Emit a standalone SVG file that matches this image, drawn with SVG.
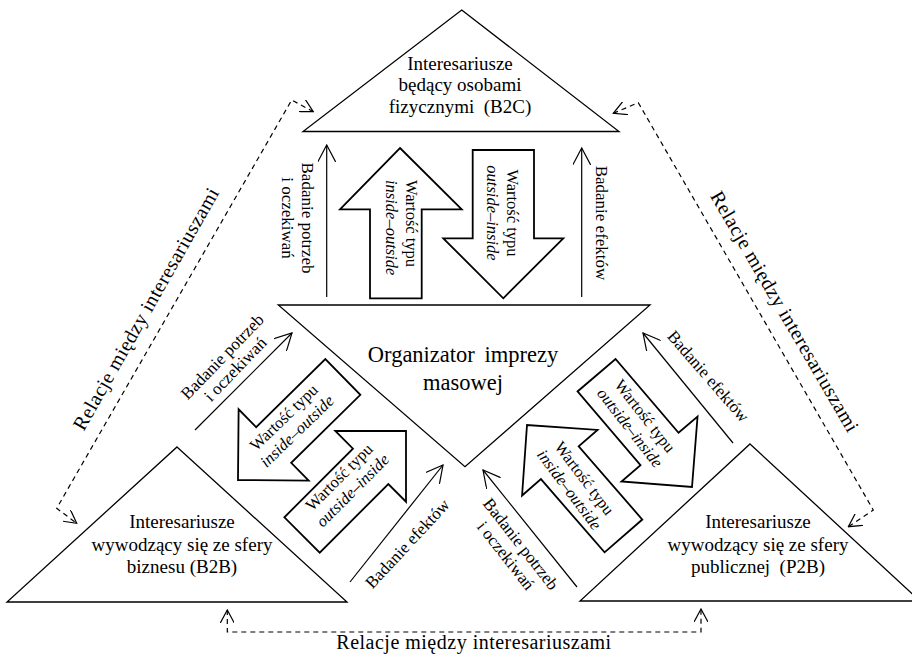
<svg xmlns="http://www.w3.org/2000/svg" width="912" height="655" viewBox="0 0 912 655">
<style>
text{font-family:"Liberation Serif","Times New Roman",serif;fill:#000}
.tri{fill:#fff;stroke:#000;stroke-width:1.3}
.n{font-size:19px;text-anchor:middle}
.c{font-size:22.5px;text-anchor:middle;word-spacing:4px}
.s{font-size:17px;text-anchor:middle}
.b{font-size:16.5px;text-anchor:middle}
.it{font-style:italic}
.rel{font-size:20px;text-anchor:middle;letter-spacing:0.5px}
.ln{fill:none;stroke:#000;stroke-width:1.2}
.ds{fill:none;stroke:#000;stroke-width:1.2;stroke-dasharray:5 4}
.blk{fill:#fff;stroke:#000;stroke-width:1.8}
</style>
<defs>
<marker id="ah" viewBox="0 0 18 18" refX="17" refY="9" markerWidth="18" markerHeight="18" markerUnits="userSpaceOnUse" orient="auto"><path d="M0,0 L17,9 L0,18" fill="none" stroke="#000" stroke-width="1.2"/></marker>
<marker id="dh" viewBox="0 0 14 14" refX="13" refY="7" markerWidth="14" markerHeight="14" markerUnits="userSpaceOnUse" orient="auto-start-reverse"><path d="M0,0 L13,7 L0,14" fill="none" stroke="#000" stroke-width="1.2"/></marker>
<path id="blkshape" d="M0,0 L-50,-50 L-50,-25 L-147,-25 L-147,25 L-50,25 L-50,50 Z"/>
</defs>

<g id="connectors">
<line class="ln" x1="326.7" y1="297" x2="326.7" y2="145" marker-end="url(#ah)"/>
<line class="ln" x1="581.7" y1="297" x2="581.7" y2="148" marker-end="url(#ah)"/>
<line class="ln" x1="195" y1="430" x2="292" y2="333" marker-end="url(#ah)"/>
<line class="ln" x1="350" y1="582" x2="443" y2="465" marker-end="url(#ah)"/>
<line class="ln" x1="733" y1="443" x2="643" y2="333" marker-end="url(#ah)"/>
<line class="ln" x1="577" y1="587" x2="483" y2="470" marker-end="url(#ah)"/>
<polyline class="ds" points="313.3,111.7 291.7,100 56.7,508.3 76.7,523.3" marker-start="url(#dh)" marker-end="url(#dh)"/>
<polyline class="ds" points="613.3,113.3 638.3,102.7 873.3,510 848.3,526.7" marker-start="url(#dh)" marker-end="url(#dh)"/>
<polyline class="ds" points="227.3,610 227.3,632 701,632 701,609" marker-start="url(#dh)" marker-end="url(#dh)"/>
<polygon class="blk" points="400,148 461.7,209.3 421.7,209.3 421.7,298.3 370,298.3 370,209.3 340,209.3"/>
<polygon class="blk" points="472.7,150 534,150 534,238.3 563.3,238.3 503.3,298.3 443.3,238.3 472.7,238.3"/>
<use href="#blkshape" class="blk" transform="translate(238,480) rotate(135.5)"/>
<use href="#blkshape" class="blk" transform="translate(406,431) rotate(-45)"/>
<use href="#blkshape" class="blk" transform="translate(692,487) rotate(49.5)"/>
<use href="#blkshape" class="blk" transform="translate(527,425) rotate(-131)"/>
</g>

<g id="node-b2c">
<polygon class="tri" points="461.7,10 619,131.5 303,131.5"/>
<text class="n" x="460" y="70">Interesariusze</text>
<text class="n" x="460" y="91">będący osobami</text>
<text class="n" x="460" y="113">fizycznymi &#160;(B2C)</text>
</g>

<g id="node-org">
<polygon class="tri" points="278.3,305 650,305 465,466.7"/>
<text class="c" x="463" y="362">Organizator imprezy</text>
<text class="c" x="463" y="390">masowej</text>
</g>

<g id="node-b2b">
<polygon class="tri" points="177,447 347,602 7,602"/>
<text class="n" x="182" y="528">Interesariusze</text>
<text class="n" x="182" y="551">wywodzący się ze sfery</text>
<text class="n" x="182" y="573">biznesu (B2B)</text>
</g>

<g id="node-p2b">
<polygon class="tri" points="750,444 920,601 580,601"/>
<text class="n" x="758" y="528">Interesariusze</text>
<text class="n" x="758" y="551">wywodzący się ze sfery</text>
<text class="n" x="758" y="573">publicznej &#160;(P2B)</text>
</g>

<g id="labels">
<g transform="translate(301.5,218) rotate(90)"><text class="s" x="0" y="0">Badanie potrzeb</text><text class="s" x="0" y="20">i oczekiwań</text></g>
<g transform="translate(406,180) rotate(90)"><text class="b" x="0" y="0" style="text-anchor:start">Wartość typu</text><text class="b it" x="0" y="20" style="text-anchor:start">inside–outside</text></g>
<g transform="translate(506.5,213) rotate(90)"><text class="b" x="0" y="0">Wartość typu</text><text class="b it" x="0" y="20">outside–inside</text></g>
<g transform="translate(595.5,223) rotate(90)"><text class="s" x="0" y="0">Badanie efektów</text></g>
<g transform="translate(230,364) rotate(-46)"><text class="s" x="0" y="-5">Badanie potrzeb</text><text class="s" x="0" y="13">i oczekiwań</text></g>
<g transform="translate(411.5,547.5) rotate(-47)"><text class="s" x="0" y="0">Badanie efektów</text></g>
<g transform="translate(704,380) rotate(49)"><text class="s" x="0" y="0">Badanie efektów</text></g>
<g transform="translate(512.5,550.5) rotate(52)"><text class="s" x="0" y="-5">Badanie potrzeb</text><text class="s" x="0" y="14">i oczekiwań</text></g>
<g transform="translate(291,425) rotate(-44)"><text class="b" x="0" y="-5">Wartość typu</text><text class="b it" x="0" y="14">inside–outside</text></g>
<g transform="translate(346.5,484.5) rotate(-45)"><text class="b" x="0" y="-5">Wartość typu</text><text class="b it" x="0" y="14">outside–inside</text></g>
<g transform="translate(636.7,422.5) rotate(52)"><text class="b" x="0" y="-5">Wartość typu</text><text class="b it" x="0" y="14">outside–inside</text></g>
<g transform="translate(576,484.5) rotate(53)"><text class="b" x="0" y="-5">Wartość typu</text><text class="b it" x="0" y="14">inside–outside</text></g>
<g transform="translate(151.8,312) rotate(-60.4)"><text class="rel" x="0" y="0">Relacje między interesariuszami</text></g>
<g transform="translate(779,315) rotate(59.8)"><text class="rel" x="0" y="0">Relacje między interesariuszami</text></g>
<text class="rel" x="474" y="649">Relacje między interesariuszami</text>
</g>
</svg>
